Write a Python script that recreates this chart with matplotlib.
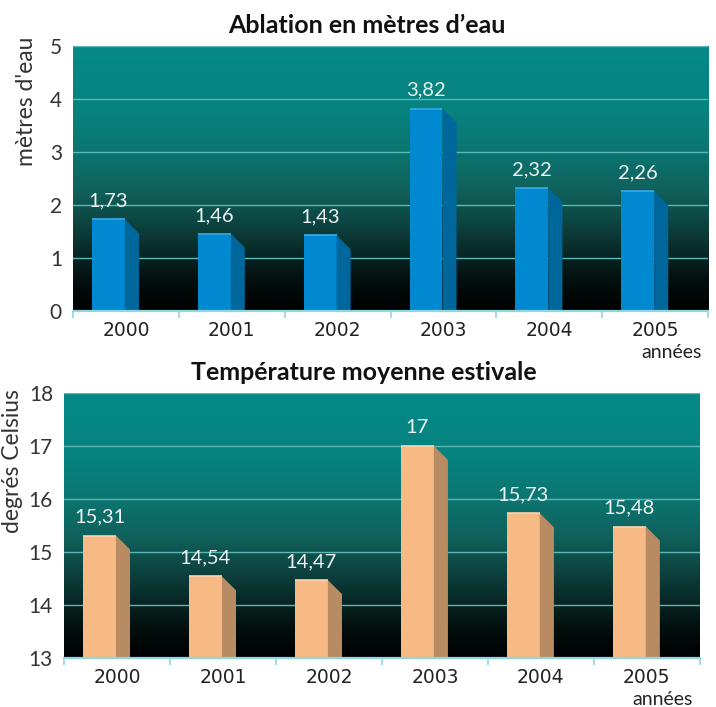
import numpy as np
import matplotlib
matplotlib.use("Agg")
import matplotlib.pyplot as plt
from matplotlib.colors import LinearSegmentedColormap
from matplotlib.patches import Polygon, Rectangle

years = ["2000", "2001", "2002", "2003", "2004", "2005"]
ablation = [1.73, 1.46, 1.43, 3.82, 2.32, 2.26]
ablation_labels = ["1,73", "1,46", "1,43", "3,82", "2,32", "2,26"]
temperature = [15.31, 14.54, 14.47, 17.0, 15.73, 15.48]
temperature_labels = ["15,31", "14,54", "14,47", "17", "15,73", "15,48"]

plt.rcParams["font.family"] = ["Lato", "DejaVu Sans"]

W, H = 716, 707
fig = plt.figure(figsize=(W / 100, H / 100), dpi=100)
fig.patch.set_facecolor("white")

bg_cmap = LinearSegmentedColormap.from_list(
    "lagoon",
    [(0.0, "#000000"), (0.12, "#03100f"), (0.28, "#0b3835"), (0.45, "#10605b"),
     (0.6, "#0b7570"), (0.75, "#07827f"), (1.0, "#058a88")])


def panel(rect, values, labels, ymin, ymax, face, side, edge, title, ylabel,
          title_x, ylabel_x, ylabel_y):
    ax = fig.add_axes(rect)
    n = len(values)
    ax.set_xlim(0, n)
    ax.set_ylim(ymin, ymax)
    grad = np.linspace(0, 1, 256).reshape(-1, 1)
    ax.imshow(grad, extent=(0, n, ymin, ymax), origin="lower", aspect="auto",
              cmap=bg_cmap, zorder=0)
    for y in range(ymin + 1, ymax + 1):
        ax.axhline(y, color="#5ab9b6", lw=1.0, zorder=1)

    depth = 0.133
    drop = (ymax - ymin) * 14 / 265
    front_w = 0.31
    for i, v in enumerate(values):
        x0 = i + 0.18
        ax.add_patch(Rectangle((x0, ymin), front_w, v - ymin, facecolor=face,
                               edgecolor="none", zorder=3))
        ax.add_patch(Polygon([(x0 + front_w, v), (x0 + front_w + depth, v - drop),
                              (x0 + front_w + depth, ymin), (x0 + front_w, ymin)],
                             closed=True, facecolor=side, edgecolor="none", zorder=3))
        ax.plot([x0, x0 + front_w], [v, v], color=edge, lw=1.2, zorder=4,
                solid_capstyle="butt")
        ax.annotate(labels[i], (x0 + front_w / 2, v), xytext=(0, 7),
                    textcoords="offset points", ha="center", va="bottom",
                    color="#eef4f4", fontsize=14.5, zorder=5)

    for s in ["top", "right", "left"]:
        ax.spines[s].set_visible(False)
    ax.spines["bottom"].set_color("#8fd6de")
    ax.spines["bottom"].set_linewidth(1.6)
    ax.spines["bottom"].set_zorder(6)

    ax.set_xticks(np.arange(0, n + 1), minor=False)
    ax.set_xticklabels([])
    ax.tick_params(axis="x", which="major", direction="out", length=5,
                   width=1.2, color="#8fd6de")
    ax.set_xticks(np.arange(n) + 0.5, minor=True)
    ax.set_xticklabels(years, minor=True, family="DejaVu Sans")
    ax.tick_params(axis="x", which="minor", length=0, pad=7, labelsize=13.5,
                   labelcolor="#222222")
    ax.set_yticks(range(ymin, ymax + 1))
    ax.tick_params(axis="y", length=0, pad=8, labelsize=15, labelcolor="#333333")

    ax.text(n - 0.35, -0.125, "années", transform=ax.get_xaxis_transform(),
            ha="center", va="top", fontsize=14, color="#222222")
    fig.text(title_x, rect[1] + rect[3] + 0.012, title, ha="center", va="bottom",
             fontsize=18, fontweight="bold", color="#111111")
    fig.text(ylabel_x, ylabel_y, ylabel, rotation=90,
             ha="center", va="center", fontsize=16.5, color="#333333")
    return ax


panel([0.102, 0.560, 0.887, 0.375], ablation, ablation_labels, 0, 5,
      "#0088d0", "#00679c", "#3aa9ea", "Ablation en mètres d’eau",
      "mètres d'eau", 0.512, 0.037, 0.857)
panel([0.0894, 0.0693, 0.888, 0.375], temperature, temperature_labels, 13, 18,
      "#f7ba85", "#b98b62", "#fbd3ad", "Température moyenne estivale",
      "degrés Celsius", 0.508, 0.018, 0.348)

fig.savefig("out.png", dpi=100, facecolor="white")
